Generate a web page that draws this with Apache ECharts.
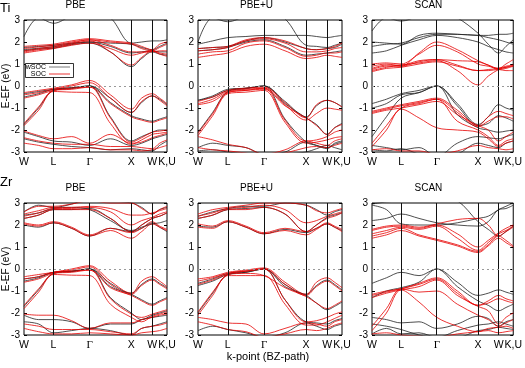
<!DOCTYPE html>
<html><head><meta charset="utf-8">
<script src="https://cdn.jsdelivr.net/npm/echarts@6/dist/echarts.min.js"></script>
<style>html,body{margin:0;padding:0;background:#fff}#c{width:525px;height:368px}</style>
</head><body><div id="c"></div>
<script>
// k-path sample positions (W-L-Γ-X-W-K)
const kPoints = [0, 0.35, 0.707, 1.14, 1.573, 2.07, 2.573, 2.82, 3.073, 3.25, 3.427];
const tickPos = [0, 0.707, 1.573, 2.573, 3.073, 3.427];
const tickLabels = ['W', 'L', 'Γ', 'X', 'W', 'K,U'];
const symLines = [0.707, 1.573, 2.573, 3.073];
const panelTitles = ['PBE', 'PBE+U', 'SCAN', 'PBE', 'PBE+U', 'SCAN'];
const rowLabels = ['Ti', 'Zr'];
const legendNames = ['wSOC', 'SOC'];

// Ti PBE
const tiPbeNoSoc = [
 [1.60,1.68,1.72,1.88,1.95,1.55,0.88,1.25,1.55,1.45,1.40],
 [1.65,1.72,1.78,1.92,2.00,1.80,1.50,1.55,1.60,1.55,1.55],
 [1.75,1.80,1.85,1.95,2.00,1.95,1.90,1.75,1.65,1.80,1.95],
 [2.25,3.10,2.85,3.20,3.50,3.10,1.95,2.00,2.05,2.05,2.10],
 [-0.35,-0.25,-0.15,-0.08,0.00,-0.55,-1.20,-0.75,-0.45,-0.60,-0.85],
 [-0.50,-0.35,-0.15,-0.08,0.00,-0.75,-1.35,-1.50,-1.60,-1.50,-1.40],
 [-1.75,-1.00,-0.20,-0.12,0.00,-1.40,-2.50,-2.30,-2.10,-2.00,-2.00],
 [-2.10,-2.30,-2.50,-2.55,-2.70,-2.40,-2.70,-2.60,-2.40,-2.30,-2.20],
 [-2.40,-2.55,-2.65,-2.75,-2.80,-2.90,-2.85,-2.90,-2.95,-2.70,-2.50]
];
const tiPbeSoc = [
 [1.55,1.65,1.75,1.90,2.05,1.55,0.95,1.30,1.60,1.50,1.45],
 [1.60,1.70,1.80,1.95,2.10,1.85,1.55,1.55,1.55,1.60,1.60],
 [1.70,1.78,1.85,2.00,2.10,2.00,1.90,1.70,1.60,1.75,1.90],
 [1.80,1.85,1.90,2.05,2.15,2.05,1.95,1.80,1.65,1.90,2.00],
 [1.50,1.60,1.70,1.85,1.95,1.70,1.40,1.50,1.60,1.45,1.35],
 [-0.30,-0.20,-0.10,0.05,0.25,-0.40,-1.05,-0.55,-0.35,-0.55,-0.80],
 [-0.40,-0.30,-0.15,0.00,0.15,-0.55,-1.20,-0.70,-0.45,-0.65,-0.90],
 [-0.55,-0.40,-0.20,-0.10,-0.05,-0.80,-1.40,-1.55,-1.65,-1.55,-1.45],
 [-1.70,-0.95,-0.20,-0.15,-0.05,-1.45,-2.55,-2.35,-2.10,-2.05,-2.00],
 [-1.80,-1.10,-0.25,-0.28,-0.30,-1.70,-2.65,-2.45,-2.20,-2.15,-2.10],
 [-2.05,-2.25,-2.40,-2.30,-2.60,-2.20,-2.60,-2.55,-2.35,-2.25,-2.15],
 [-2.35,-2.50,-2.60,-2.65,-2.65,-2.75,-2.75,-2.80,-2.85,-2.60,-2.45],
 [-2.60,-2.70,-2.85,-2.85,-2.80,-2.90,-2.90,-2.95,-2.90,-2.80,-2.70]
];
// Ti PBE+U
const tiPbeUNoSoc = [
 [1.60,1.65,1.75,2.00,2.10,1.80,1.40,1.45,1.50,1.55,1.60],
 [1.70,1.75,1.80,2.05,2.20,2.00,1.70,1.65,1.70,1.75,1.90],
 [1.90,2.05,2.20,2.25,2.30,2.30,2.30,2.25,2.20,2.25,2.30],
 [2.00,3.10,2.92,3.20,3.50,3.05,1.85,1.80,1.75,1.85,1.95],
 [-0.65,-0.45,-0.15,-0.10,0.00,-0.70,-1.40,-0.90,-0.65,-0.75,-0.95],
 [-0.65,-0.50,-0.20,-0.10,0.00,-0.80,-1.45,-1.75,-2.20,-1.90,-1.70],
 [-2.10,-1.20,-0.25,-0.12,0.00,-1.50,-2.55,-2.70,-2.85,-2.60,-2.50],
 [-2.80,-2.60,-2.70,-2.80,-3.10,-3.00,-2.55,-2.70,-2.80,-2.65,-2.55],
 [-2.95,-2.90,-3.00,-3.10,-3.20,-3.10,-3.00,-2.85,-2.70,-2.80,-2.90]
];
const tiPbeUSoc = [
 [1.30,1.40,1.50,1.80,1.90,1.60,1.25,1.30,1.40,1.35,1.30],
 [1.45,1.55,1.60,1.95,2.05,1.75,1.35,1.40,1.50,1.50,1.55],
 [1.60,1.65,1.75,2.05,2.15,1.95,1.55,1.55,1.60,1.70,1.75],
 [1.70,1.75,1.80,2.10,2.20,2.05,1.70,1.65,1.70,1.80,1.95],
 [-0.70,-0.50,-0.20,-0.10,-0.05,-0.75,-1.45,-0.85,-0.65,-0.75,-0.95],
 [-0.80,-0.60,-0.25,-0.15,-0.10,-0.85,-1.55,-1.25,-1.00,-1.05,-1.10],
 [-0.85,-0.70,-0.30,-0.20,-0.15,-0.90,-1.45,-1.80,-2.20,-1.90,-1.75],
 [-2.15,-1.25,-0.30,-0.20,-0.10,-1.55,-2.50,-2.45,-2.30,-2.10,-2.00],
 [-2.25,-1.35,-0.35,-0.28,-0.20,-1.65,-2.60,-2.55,-2.45,-2.35,-2.30],
 [-2.30,-2.45,-2.65,-2.80,-3.10,-2.90,-2.50,-2.60,-2.70,-2.50,-2.40],
 [-2.80,-2.90,-2.95,-3.05,-3.20,-3.05,-2.80,-2.75,-2.80,-2.70,-2.60]
];
// Ti SCAN
const tiScanNoSoc = [
 [1.50,1.60,1.85,2.10,2.30,2.20,2.00,1.80,1.65,1.55,1.50],
 [1.80,1.90,1.95,2.20,2.35,2.35,2.30,2.30,2.35,2.35,2.40],
 [2.00,1.95,1.90,2.30,2.40,2.35,2.30,2.20,2.10,2.00,1.90],
 [2.50,3.10,2.95,3.20,3.50,3.10,2.40,1.90,1.50,1.80,2.10],
 [-0.80,-0.60,-0.35,-0.20,0.00,-0.80,-1.75,-1.40,-0.85,-1.00,-1.10],
 [-1.00,-0.80,-0.40,-0.30,0.00,-0.90,-1.80,-1.70,-1.35,-1.45,-1.60],
 [-2.30,-1.40,-0.55,-0.30,0.00,-1.30,-1.90,-2.00,-2.10,-2.05,-2.00],
 [-2.70,-2.80,-2.90,-2.80,-3.20,-2.60,-2.30,-2.35,-2.40,-2.30,-2.20],
 [-2.90,-2.95,-2.85,-3.10,-3.30,-3.10,-2.60,-2.70,-2.80,-2.60,-2.50]
];
const tiScanSoc = [
 [0.70,0.85,0.95,1.05,1.15,0.70,0.05,0.45,0.75,0.85,0.90],
 [0.75,0.90,0.90,1.10,1.20,0.95,0.70,0.75,0.80,0.90,0.95],
 [0.80,0.95,0.95,1.15,1.20,1.15,1.10,0.95,0.80,1.00,1.20],
 [0.90,1.00,0.90,1.50,2.00,1.65,1.15,0.95,0.75,0.80,0.90],
 [1.00,1.05,1.00,1.45,1.85,1.55,1.00,0.90,0.80,0.85,0.95],
 [0.65,0.80,0.85,1.00,1.10,0.90,0.70,0.70,0.75,0.70,0.70],
 [-1.15,-1.00,-0.85,-0.70,-0.55,-1.10,-1.80,-1.40,-1.15,-1.25,-1.35],
 [-1.20,-1.05,-0.90,-0.75,-0.60,-1.20,-1.85,-1.60,-1.40,-1.40,-1.50],
 [-1.25,-1.10,-1.00,-0.85,-0.70,-1.30,-1.80,-2.00,-2.50,-2.30,-2.10],
 [-2.60,-1.80,-1.00,-0.80,-0.60,-1.60,-2.00,-2.30,-2.70,-2.50,-2.40],
 [-2.75,-2.00,-1.05,-1.45,-1.90,-2.00,-2.10,-2.40,-2.75,-2.60,-2.50],
 [-2.90,-2.85,-2.95,-2.95,-3.10,-2.95,-2.70,-2.80,-2.85,-2.90,-2.85]
];
// Zr PBE
const zrPbeNoSoc = [
 [2.00,1.90,2.10,1.85,1.50,1.85,1.70,1.85,2.10,1.90,1.70],
 [2.30,2.45,2.70,2.70,2.75,2.30,1.70,2.00,2.30,2.40,2.55],
 [2.45,2.55,2.75,2.80,2.70,2.20,1.75,1.90,2.05,2.10,2.20],
 [2.60,2.90,2.80,2.95,3.20,3.10,3.00,2.80,2.50,2.70,2.80],
 [-0.45,-0.35,-0.15,-0.10,0.00,-0.65,-1.10,-0.70,-0.45,-0.65,-0.85],
 [-0.55,-0.40,-0.15,-0.10,0.00,-0.80,-1.15,-1.40,-1.60,-1.45,-1.30],
 [-1.70,-0.95,-0.20,-0.12,0.00,-1.30,-2.00,-2.30,-2.10,-2.00,-1.90],
 [-2.10,-2.30,-2.30,-2.40,-2.70,-2.50,-2.50,-2.30,-2.20,-2.15,-2.10],
 [-2.40,-2.50,-2.90,-2.80,-2.70,-2.80,-3.00,-2.70,-2.60,-2.50,-2.40]
];
const zrPbeSoc = [
 [2.05,1.95,2.10,1.85,1.50,1.75,1.40,1.70,2.05,1.90,1.75],
 [2.10,2.00,2.15,1.90,1.55,1.85,1.65,1.85,2.15,1.95,1.80],
 [2.30,2.45,2.70,2.70,2.70,2.30,1.70,2.00,2.30,2.40,2.55],
 [2.40,2.55,2.75,2.75,2.80,2.60,2.00,2.20,2.35,2.50,2.60],
 [2.50,2.65,2.80,2.80,2.85,2.75,2.45,2.45,2.55,2.65,2.75],
 [2.60,2.85,2.85,2.95,3.10,3.00,3.00,2.75,2.50,2.70,2.85],
 [-0.35,-0.25,-0.15,0.00,0.15,-0.55,-1.10,-0.55,-0.35,-0.55,-0.80],
 [-0.45,-0.35,-0.15,-0.05,0.10,-0.70,-1.15,-0.75,-0.50,-0.70,-0.90],
 [-0.60,-0.45,-0.20,-0.15,-0.05,-0.85,-1.20,-1.45,-1.65,-1.50,-1.35],
 [-1.65,-0.90,-0.20,-0.10,-0.05,-1.35,-2.05,-2.20,-2.05,-1.95,-1.85],
 [-1.80,-1.05,-0.25,-0.28,-0.30,-1.60,-2.20,-2.40,-2.15,-2.05,-1.95],
 [-2.05,-2.10,-2.10,-2.35,-2.70,-2.45,-2.45,-2.30,-2.20,-2.10,-2.05],
 [-2.50,-2.60,-2.75,-2.75,-2.75,-2.85,-2.95,-2.70,-2.60,-2.55,-2.45],
 [-2.70,-2.85,-2.95,-2.95,-2.90,-2.95,-3.00,-2.90,-2.85,-2.80,-2.70]
];
// Zr PBE+U
const zrPbeUNoSoc = [
 [1.95,1.90,2.15,1.90,1.60,1.80,1.65,1.85,2.05,1.90,1.75],
 [2.30,2.45,2.70,2.75,2.80,2.50,1.70,2.00,2.35,2.45,2.55],
 [2.40,2.60,2.75,2.85,2.85,3.00,2.90,2.70,2.45,2.60,2.70],
 [-0.65,-0.45,-0.20,-0.10,0.00,-0.70,-1.15,-0.75,-0.50,-0.70,-0.95],
 [-0.75,-0.55,-0.25,-0.15,0.00,-0.80,-1.20,-1.55,-1.85,-1.70,-1.50],
 [-2.00,-1.10,-0.25,-0.15,0.00,-1.40,-2.40,-2.45,-2.50,-2.35,-2.25],
 [-2.80,-2.60,-2.75,-2.90,-3.10,-2.90,-2.45,-2.60,-2.75,-2.60,-2.50]
];
const zrPbeUSoc = [
 [1.90,1.85,2.15,1.90,1.60,1.75,1.55,1.80,2.05,1.90,1.70],
 [2.05,1.95,2.20,1.95,1.65,1.85,1.70,1.85,2.10,1.95,1.80],
 [2.30,2.45,2.70,2.70,2.80,2.50,1.70,2.00,2.30,2.40,2.55],
 [2.40,2.55,2.75,2.80,2.90,2.70,2.10,2.20,2.40,2.50,2.60],
 [2.50,2.70,2.80,2.90,3.00,3.00,2.90,2.65,2.55,2.65,2.75],
 [-0.45,-0.35,-0.15,-0.05,0.05,-0.60,-1.15,-0.60,-0.40,-0.60,-0.85],
 [-0.55,-0.40,-0.20,-0.10,0.00,-0.70,-1.20,-0.80,-0.55,-0.75,-1.00],
 [-0.70,-0.50,-0.25,-0.20,-0.30,-0.85,-1.25,-1.55,-1.80,-1.65,-1.45],
 [-1.95,-1.05,-0.25,-0.10,0.00,-1.40,-2.40,-2.35,-2.20,-2.05,-1.95],
 [-2.10,-1.20,-0.30,-0.30,-0.30,-1.60,-2.55,-2.55,-2.40,-2.25,-2.10],
 [-2.20,-2.30,-2.45,-2.50,-2.95,-2.70,-2.45,-2.50,-2.60,-2.40,-2.30],
 [-2.40,-2.55,-2.75,-2.85,-3.10,-2.95,-2.75,-2.80,-2.70,-2.55,-2.45]
];
// Zr SCAN
const zrScanNoSoc = [
 [2.20,2.30,2.50,2.30,2.10,2.00,1.95,2.15,2.70,2.75,2.90],
 [2.90,2.70,2.05,2.00,2.00,2.10,2.30,2.40,2.70,2.85,3.00],
 [2.95,3.05,3.10,3.20,3.30,3.10,2.15,1.80,1.50,1.70,1.95],
 [-0.65,-0.40,-0.15,-0.30,0.00,-0.60,-1.20,-1.10,-0.95,-1.05,-1.15],
 [-1.30,-1.00,-0.85,-0.60,0.00,-0.80,-1.45,-1.65,-1.90,-1.75,-1.60],
 [-2.20,-2.30,-2.45,-2.40,-2.70,-2.50,-2.15,-2.25,-2.60,-2.40,-2.30],
 [-2.50,-2.60,-2.75,-3.00,-3.10,-2.80,-2.55,-2.50,-2.40,-2.50,-2.60],
 [-2.95,-2.70,-2.95,-2.90,-3.10,-3.10,-2.80,-2.75,-2.65,-2.70,-2.75]
];
const zrScanSoc = [
 [1.40,1.55,1.75,1.50,1.30,1.05,0.75,1.05,1.40,1.20,1.00],
 [1.50,1.65,1.85,1.55,1.35,1.10,0.80,1.10,1.50,1.30,1.05],
 [1.60,1.75,1.90,1.80,1.95,1.40,0.85,1.20,1.60,1.75,1.95],
 [1.75,1.90,1.95,1.85,2.00,1.60,1.00,1.30,1.65,1.85,2.00],
 [1.80,1.95,2.00,1.90,2.05,2.25,2.30,2.00,1.50,1.70,1.90],
 [-1.15,-1.00,-0.90,-0.65,-0.40,-1.00,-1.65,-1.45,-1.20,-1.35,-1.45],
 [-1.20,-1.05,-0.90,-0.70,-0.45,-1.10,-1.65,-1.55,-1.35,-1.45,-1.55],
 [-1.30,-1.10,-0.95,-0.80,-0.50,-1.20,-1.70,-1.90,-2.50,-2.20,-2.00],
 [-2.60,-1.80,-0.90,-1.05,-1.00,-1.60,-2.10,-2.30,-2.60,-2.45,-2.30],
 [-2.80,-2.00,-0.95,-1.50,-2.20,-2.60,-2.85,-2.70,-2.65,-2.60,-2.70],
 [-2.95,-2.90,-3.00,-3.05,-3.10,-2.95,-2.85,-2.80,-2.90,-2.85,-2.80]
];

const panelsNoSoc = [tiPbeNoSoc, tiPbeUNoSoc, tiScanNoSoc, zrPbeNoSoc, zrPbeUNoSoc, zrScanNoSoc];
const panelsSoc = [tiPbeSoc, tiPbeUSoc, tiScanSoc, zrPbeSoc, zrPbeUSoc, zrScanSoc];

const FONT = 'Liberation Sans';
const colL = [24, 198, 372], colW = [143, 144, 145];
const rowT = [20, 203], H = 132;
const grid = [], xAxis = [], yAxis = [], series = [];
for (let p = 0; p < 6; p++) {
  const r = Math.floor(p / 3), c = p % 3;
  grid.push({left: colL[c], top: rowT[r], width: colW[c], height: H, show: true,
    borderColor: '#000', borderWidth: 1, backgroundColor: 'transparent', containLabel: false});
  xAxis.push({type: 'value', gridIndex: p, min: 0, max: 3.427,
    axisLine: {show: false}, axisTick: {show: false}, splitLine: {show: false},
    axisLabel: {show: true, customValues: tickPos, margin: 5, fontSize: 10.5, color: '#000', fontFamily: FONT,
      formatter: v => { let bi = 0; tickPos.forEach((t, i) => { if (Math.abs(t - v) < Math.abs(tickPos[bi] - v)) bi = i; }); const s = tickLabels[bi]; return s === 'Γ' ? '{g|Γ}' : s; },
      rich: {g: {fontFamily: 'Liberation Serif', fontSize: 11, color: '#000'}}}});
}
for (let p = 0; p < 6; p++) {
  yAxis.push({type: 'value', gridIndex: p, min: -3, max: 3, interval: 1,
    axisLine: {show: false}, splitLine: {show: false},
    axisTick: {show: true, inside: true, length: 3, lineStyle: {color: '#000'}},
    axisLabel: {margin: 4, fontSize: 10, color: '#000', fontFamily: FONT}});
}
for (let p = 0; p < 6; p++) {
  yAxis.push({type: 'value', gridIndex: p, position: 'right', min: -3, max: 3, interval: 1,
    axisLine: {show: false}, splitLine: {show: false},
    axisTick: {show: true, inside: true, length: 3, lineStyle: {color: '#000'}},
    axisLabel: {show: false}});
}
function addBands(p, bands, color, z) {
  bands.forEach(b => {
    series.push({type: 'line', xAxisIndex: p, yAxisIndex: p, data: kPoints.map((k, i) => [k, b[i]]),
      showSymbol: false, symbol: 'none', smooth: 0.35, silent: true, z: z, clip: true,
      lineStyle: {color: color, width: 0.8}});
  });
}
for (let p = 0; p < 6; p++) {
  addBands(p, panelsNoSoc[p], '#222', 2);
  addBands(p, panelsSoc[p], '#e60000', 3);
  series.push({type: 'line', xAxisIndex: p, yAxisIndex: p, data: [], silent: true, z: 4,
    markLine: {silent: true, symbol: 'none', label: {show: false}, animation: false,
      data: symLines.map(x => ({xAxis: x, lineStyle: {color: '#111', width: 1, type: 'solid'}}))
        .concat([{yAxis: 0, lineStyle: {color: '#999', width: 1, type: [2, 3]}}])}});
}
const graphic = [];
for (let p = 0; p < 6; p++) {
  const r = Math.floor(p / 3), c = p % 3;
  graphic.push({type: 'text', left: colL[c] + colW[c] / 2 - 30, top: rowT[r] - 20, silent: true,
    style: {text: panelTitles[p], x: 30, y: 0, width: 60, align: 'center', font: '10px "' + FONT + '"', fill: '#000'}});
}
graphic.push({type: 'text', x: 0, y: 2, style: {text: rowLabels[0], font: '13px "' + FONT + '"', fill: '#000'}});
graphic.push({type: 'text', x: 0, y: 176, style: {text: rowLabels[1], font: '13px "' + FONT + '"', fill: '#000'}});
[86, 269].forEach(cy => {
  graphic.push({type: 'text', x: 6, y: cy, rotation: Math.PI / 2,
    style: {text: 'E-EF (eV)', font: '10px "' + FONT + '"', fill: '#000', align: 'center', verticalAlign: 'middle'}});
});
graphic.push({type: 'text', x: 268, y: 357, style: {text: 'k-point (BZ-path)', font: '11px "' + FONT + '"', fill: '#000', align: 'center', verticalAlign: 'middle'}});
// legend box
graphic.push({type: 'rect', shape: {x: 25.5, y: 63.5, width: 48, height: 14}, style: {fill: '#fff', stroke: '#000', lineWidth: 0.8}, z: 10});
graphic.push({type: 'text', x: 46, y: 67, z: 11, style: {text: legendNames[0], font: '7px "' + FONT + '"', fill: '#000', align: 'right', verticalAlign: 'middle'}});
graphic.push({type: 'text', x: 46, y: 74, z: 11, style: {text: legendNames[1], font: '7px "' + FONT + '"', fill: '#000', align: 'right', verticalAlign: 'middle'}});
graphic.push({type: 'line', z: 11, shape: {x1: 49, y1: 67, x2: 70, y2: 67}, style: {stroke: '#555', lineWidth: 0.8}});
graphic.push({type: 'line', z: 11, shape: {x1: 49, y1: 74, x2: 70, y2: 74}, style: {stroke: '#e60000', lineWidth: 0.8}});

const chart = echarts.init(document.getElementById('c'), null, {renderer: 'canvas'});
chart.setOption({animation: false, backgroundColor: '#fff', grid, xAxis, yAxis, series, graphic});
</script></body></html>
